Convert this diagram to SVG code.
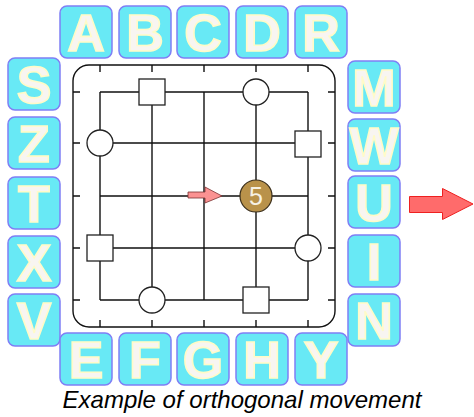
<svg xmlns="http://www.w3.org/2000/svg" width="474" height="417" viewBox="0 0 474 417">
  <style>
    .tile rect { fill: #68e9f5; stroke: #7f7ff5; stroke-width: 1.5; }
    .tile text { font-family: "Liberation Sans", Arial, sans-serif; font-weight: bold; font-size: 52px; fill: #f8f5f1; stroke: #fffbc8; stroke-width: 1.6; text-anchor: middle; }
    .grid { stroke: #111; stroke-width: 1.4; fill: none; }
    .piece { fill: #fff; stroke: #222; stroke-width: 1.3; }
    .caption { font-family: "Liberation Sans", Arial, sans-serif; font-style: italic; font-size: 24px; fill: #000; text-anchor: middle; }
  </style>
  <rect width="474" height="417" fill="#fff"/>

  <!-- board outline, ticks and lines -->
  <g id="connectors">
    <rect x="73" y="65" width="262" height="262" rx="16" ry="16" class="grid"/>
    <path class="grid" d="M100 65v7M152 65v7M204 65v7M256 65v7M308 65v7
      M100 327v-7M152 327v-7M204 327v-7M256 327v-7M308 327v-7
      M73 92h7M73 143h7M73 196h7M73 248h7M73 300h7
      M335 92h-7M335 143h-7M335 196h-7M335 248h-7M335 300h-7"/>
    <path class="grid" d="M100 92h208M100 143h208M100 196h208M100 248h208M100 300h208
      M100 92v208M152 92v208M204 92v208M256 92v208M308 92v208"/>
  </g>

  <!-- pieces on the board -->
  <g id="sq1"><rect class="piece" x="139" y="79" width="26" height="26"/></g>
  <g id="ci1"><circle class="piece" cx="256" cy="92" r="13"/></g>
  <g id="ci2"><circle class="piece" cx="100" cy="143" r="13"/></g>
  <g id="sq2"><rect class="piece" x="295" y="131" width="26" height="26"/></g>
  <g id="sq3"><rect class="piece" x="87" y="235" width="26" height="26"/></g>
  <g id="ci3"><circle class="piece" cx="308" cy="248" r="13"/></g>
  <g id="ci4"><circle class="piece" cx="152" cy="300" r="13"/></g>
  <g id="sq4"><rect class="piece" x="243" y="287" width="26" height="26"/></g>

  <g id="token5">
    <circle cx="256" cy="196" r="16" fill="#b9924a" stroke="#3a2e1a" stroke-width="1.2"/>
    <text x="256" y="205" font-family="Liberation Sans, Arial, sans-serif" font-size="25" fill="#f6f1e4" text-anchor="middle">5</text>
  </g>

  <!-- small move arrow -->
  <g id="moveArrow">
    <path d="M188 192h17v-5l17 9l-17 7v-5h-17z" fill="#fb9292" stroke="#7a3030" stroke-width="0.8"/>
  </g>

  <!-- large arrow on the right -->
  <g id="bigArrow">
    <path d="M409.5 196.5h33v-8l30.5 15.5l-30.5 15.5v-7h-33z" fill="#ff6b6b" stroke="#ee2020" stroke-width="1"/>
  </g>

  <!-- top row -->
  <g id="tA" class="tile" transform="translate(60,6)"><rect width="52" height="52" rx="7"/><text x="26" y="45">A</text></g>
  <g id="tB" class="tile" transform="translate(119,6)"><rect width="52" height="52" rx="7"/><text x="26" y="45">B</text></g>
  <g id="tC" class="tile" transform="translate(177,6)"><rect width="52" height="52" rx="7"/><text x="26" y="45">C</text></g>
  <g id="tD" class="tile" transform="translate(236,6)"><rect width="52" height="52" rx="7"/><text x="26" y="45">D</text></g>
  <g id="tR" class="tile" transform="translate(295,6)"><rect width="52" height="52" rx="7"/><text x="26" y="45">R</text></g>

  <!-- left column -->
  <g id="tS" class="tile" transform="translate(8,58)"><rect width="52" height="52" rx="7"/><text x="26" y="45">S</text></g>
  <g id="tZ" class="tile" transform="translate(8,117)"><rect width="52" height="52" rx="7"/><text x="26" y="45">Z</text></g>
  <g id="tT" class="tile" transform="translate(8,177)"><rect width="52" height="52" rx="7"/><text x="26" y="45">T</text></g>
  <g id="tX" class="tile" transform="translate(8,236)"><rect width="52" height="52" rx="7"/><text x="26" y="45">X</text></g>
  <g id="tV" class="tile" transform="translate(8,294)"><rect width="52" height="52" rx="7"/><text x="26" y="45">V</text></g>

  <!-- right column -->
  <g id="tM" class="tile" transform="translate(348,61)"><rect width="52" height="52" rx="7"/><text x="26" y="45">M</text></g>
  <g id="tW" class="tile" transform="translate(348,119)"><rect width="52" height="52" rx="7"/><text x="26" y="45">W</text></g>
  <g id="tU" class="tile" transform="translate(348,176)"><rect width="52" height="52" rx="7"/><text x="26" y="45">U</text></g>
  <g id="tI" class="tile" transform="translate(348,235)"><rect width="52" height="52" rx="7"/><text x="26" y="45">I</text></g>
  <g id="tN" class="tile" transform="translate(348,294)"><rect width="52" height="52" rx="7"/><text x="26" y="45">N</text></g>

  <!-- bottom row -->
  <g id="tE" class="tile" transform="translate(60,333)"><rect width="52" height="52" rx="7"/><text x="26" y="45">E</text></g>
  <g id="tF" class="tile" transform="translate(119,333)"><rect width="52" height="52" rx="7"/><text x="26" y="45">F</text></g>
  <g id="tG" class="tile" transform="translate(177,333)"><rect width="52" height="52" rx="7"/><text x="26" y="45">G</text></g>
  <g id="tH" class="tile" transform="translate(236,333)"><rect width="52" height="52" rx="7"/><text x="26" y="45">H</text></g>
  <g id="tY" class="tile" transform="translate(295,333)"><rect width="52" height="52" rx="7"/><text x="26" y="45">Y</text></g>

  <text class="caption" x="242" y="408">Example of orthogonal movement</text>
</svg>
